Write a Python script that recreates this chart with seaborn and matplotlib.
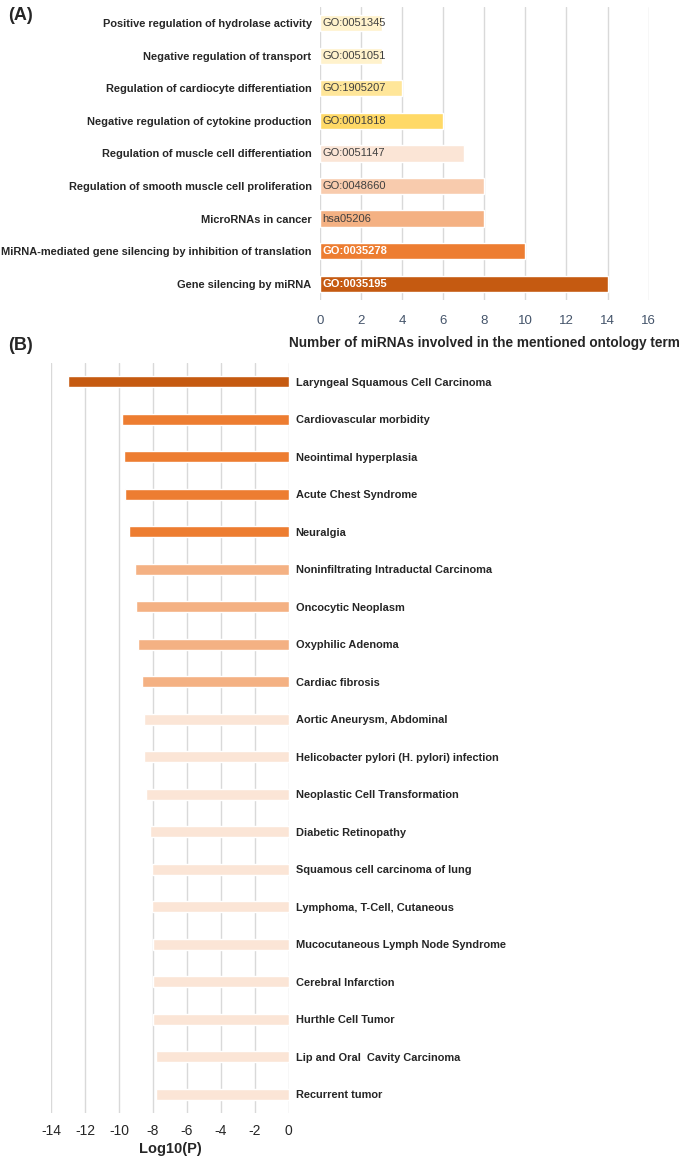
import numpy as np
import pandas as pd
import matplotlib
matplotlib.use("Agg")
import matplotlib.pyplot as plt
import seaborn as sns

sns.set_style("white")
plt.rcParams["font.family"] = ["Liberation Sans", "DejaVu Sans"]
plt.rcParams["axes.unicode_minus"] = False

# Panel A data
go_terms = [
    "Positive regulation of hydrolase activity",
    "Negative regulation of transport",
    "Regulation of cardiocyte differentiation",
    "Negative regulation of cytokine production",
    "Regulation of muscle cell differentiation",
    "Regulation of smooth muscle cell proliferation",
    "MicroRNAs in cancer",
    "MiRNA-mediated gene silencing by inhibition of translation",
    "Gene silencing by miRNA",
]
go_ids = ["GO:0051345", "GO:0051051", "GO:1905207", "GO:0001818", "GO:0051147",
          "GO:0048660", "hsa05206", "GO:0035278", "GO:0035195"]
go_counts = [3, 3, 4, 6, 7, 8, 8, 10, 14]
go_colors = ["#FFF2CC", "#FFF2CC", "#FFE699", "#FFD966", "#FBE5D6",
             "#F8CBAD", "#F4B183", "#ED7D31", "#C55A11"]
go_text_colors = ["#404040"] * 7 + ["white", "white"]

# Panel B data
diseases = [
    "Laryngeal Squamous Cell Carcinoma",
    "Cardiovascular morbidity",
    "Neointimal hyperplasia",
    "Acute Chest Syndrome",
    "Neuralgia",
    "Noninfiltrating Intraductal Carcinoma",
    "Oncocytic Neoplasm",
    "Oxyphilic Adenoma",
    "Cardiac fibrosis",
    "Aortic Aneurysm, Abdominal",
    "Helicobacter pylori (H. pylori) infection",
    "Neoplastic Cell Transformation",
    "Diabetic Retinopathy",
    "Squamous cell carcinoma of lung",
    "Lymphoma, T-Cell, Cutaneous",
    "Mucocutaneous Lymph Node Syndrome",
    "Cerebral Infarction",
    "Hurthle Cell Tumor",
    "Lip and Oral  Cavity Carcinoma",
    "Recurrent tumor",
]
log_p = [-13.0, -9.8, -9.7, -9.63, -9.42, -9.08, -9.0, -8.9, -8.62, -8.51,
         -8.51, -8.39, -8.2, -8.07, -8.07, -8.02, -7.97, -7.97, -7.82, -7.82]
disease_colors = ["#C55A11"] + ["#ED7D31"] * 4 + ["#F4B183"] * 4 + ["#FBE5D6"] * 11

fig = plt.figure(figsize=(6.85, 11.56), dpi=100)

# ---- (A) ----
axA = fig.add_axes([0.467, 0.7405, 0.480, 0.2535])
dfA = pd.DataFrame({"term": go_terms, "count": go_counts})
sns.barplot(data=dfA, x="count", y="term", hue="term", palette=go_colors,
            legend=False, width=0.5, ax=axA, saturation=1)
for i, (gid, tc) in enumerate(zip(go_ids, go_text_colors)):
    axA.text(0.12, i, gid, ha="left", va="center", fontsize=8.0,
             color=tc, fontweight="bold" if tc == "white" else "normal")
axA.set_xlim(0, 16)
axA.set_ylim(8.5, -0.5)
axA.set_xticks(range(0, 17, 2))
axA.xaxis.grid(True, color="#D9D9D9", lw=1)
axA.set_axisbelow(True)
for s in axA.spines.values():
    s.set_visible(False)
axA.tick_params(axis="x", length=0, pad=11, labelsize=9.5, labelcolor="#44546A")
axA.tick_params(axis="y", length=0, pad=6, labelsize=7.9)
for lbl in axA.get_yticklabels():
    lbl.set_fontweight("bold")
axA.set_ylabel("")
axA.set_xlabel("Number of miRNAs involved in the mentioned ontology term",
               fontsize=9.8, fontweight="bold", labelpad=6)

# ---- (B) ----
axB = fig.add_axes([0.0745, 0.0372, 0.347, 0.6488])
dfB = pd.DataFrame({"disease": diseases, "logp": log_p})
sns.barplot(data=dfB, x="logp", y="disease", hue="disease", palette=disease_colors,
            legend=False, width=0.3, ax=axB, saturation=1)
axB.set_xlim(-14, 0)
axB.set_ylim(19.5, -0.5)
axB.set_xticks(range(-14, 1, 2))
axB.xaxis.grid(True, color="#D9D9D9", lw=1)
axB.set_axisbelow(True)
for s in axB.spines.values():
    s.set_visible(False)
axB.yaxis.tick_right()
axB.tick_params(axis="y", length=0, pad=5, labelsize=7.9)
axB.tick_params(axis="x", length=0, pad=8, labelsize=10)
for lbl in axB.get_yticklabels():
    lbl.set_fontweight("bold")
axB.set_ylabel("")
axB.set_xlabel("Log10(P)", fontsize=10.5, fontweight="bold", labelpad=3)

fig.text(0.012, 0.987, "(A)", fontsize=13, fontweight="bold", va="center")
fig.text(0.012, 0.7015, "(B)", fontsize=13, fontweight="bold", va="center")

fig.savefig("out.png", dpi=100)
